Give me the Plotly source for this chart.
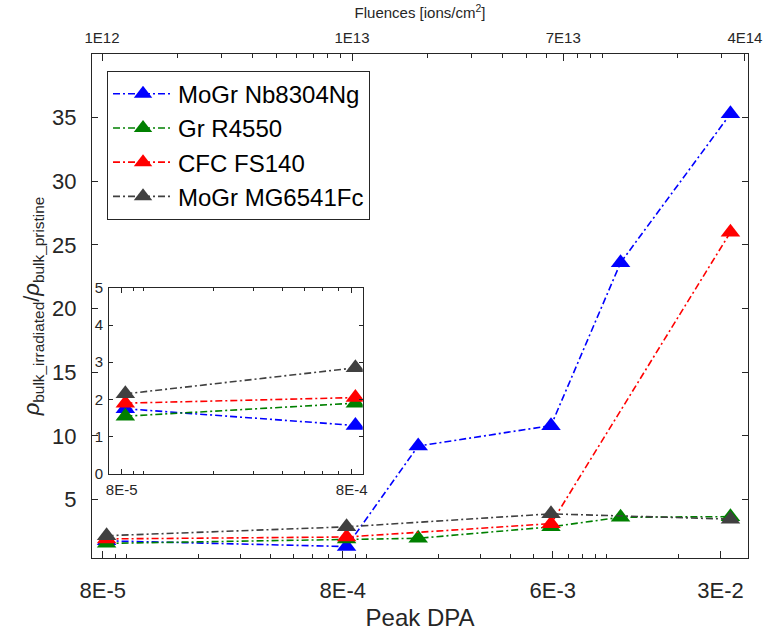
import plotly.graph_objects as go

# ---------------- data ----------------
dpa_all = [8.3e-5, 8.3e-4, 1.65e-3, 5.9e-3, 1.15e-2, 3.3e-2]
dpa_four = [8.3e-5, 8.3e-4, 5.9e-3, 3.3e-2]

blue_vals = [1.75, 1.3, 9.2, 10.8, 23.6, 35.3]
green_vals = [1.55, 1.9, 1.95, 2.85, 3.6, 3.65]
red_vals = [1.9, 2.05, 3.1, 26.0]
gray_vals = [2.15, 2.85, 3.87, 3.45]

names = ["MoGr Nb8304Ng", "Gr R4550", "CFC FS140", "MoGr MG6541Fc"]
colors = ["#0000FF", "#008000", "#FF0000", "#404040"]

dpa_ticks = [8e-5, 8e-4, 6e-3, 3e-2]
dpa_ticktext = ["8E-5", "8E-4", "6E-3", "3E-2"]
flu_ticks = [1e12, 1e13, 7e13, 3.73e14]
flu_ticktext = ["1E12", "1E13", "7E13", "4E14"]
inset_xticks = [8e-5, 8e-4]
inset_xticktext = ["8E-5", "8E-4"]
inset_yticks = [0, 1, 2, 3, 4, 5]
main_yticks = [5, 10, 15, 20, 25, 30, 35]

series = [
    (names[0], dpa_all, blue_vals, colors[0]),
    (names[1], dpa_all, green_vals, colors[1]),
    (names[2], dpa_four, red_vals, colors[2]),
    (names[3], dpa_four, gray_vals, colors[3]),
]

FONT = "Liberation Sans, Arial, Helvetica, sans-serif"
TXT = "#262626"
AX = "#262626"
DASH = "7px,3px,2px,3px"


def log_minor(lo, hi, exclude):
    vals = []
    for n in range(lo, hi + 1):
        for k in range(1, 10):
            v = k * 10.0 ** n
            if all(abs(v - e) / e > 1e-6 for e in exclude):
                vals.append(v)
    return vals


fig = go.Figure()

# main traces
for name, xs, ys, col in series:
    fig.add_trace(go.Scatter(
        x=xs, y=ys, name=name, mode="lines+markers",
        line=dict(color=col, width=1.6, dash=DASH),
        marker=dict(symbol="triangle-up", size=17, color=col),
        xaxis="x", yaxis="y"))

# inset traces (first two points)
for name, xs, ys, col in series:
    fig.add_trace(go.Scatter(
        x=xs[:2], y=ys[:2], name=name, mode="lines+markers", showlegend=False,
        line=dict(color=col, width=1.6, dash=DASH),
        marker=dict(symbol="triangle-up", size=17, color=col),
        xaxis="x2", yaxis="y2"))

# empty trace so the top fluence axis is drawn
fig.add_trace(go.Scatter(x=[None], y=[None], xaxis="x3", yaxis="y",
                         mode="markers", showlegend=False, hoverinfo="skip"))

fig.update_layout(
    width=778, height=638,
    margin=dict(l=92, r=30, t=50, b=73),
    paper_bgcolor="white", plot_bgcolor="white",
    font=dict(family=FONT, color=TXT),
    showlegend=True,
    legend=dict(
        x=0.0229, y=0.967, xanchor="left", yanchor="top",
        bgcolor="white", bordercolor=AX, borderwidth=1,
        font=dict(size=24, family=FONT, color="#000000"),
        itemwidth=60, tracegroupgap=0,
    ),
    xaxis=dict(
        type="log", range=[-4.1417, -1.4083], domain=[0, 1], anchor="y",
        tickmode="array", tickvals=dpa_ticks, ticktext=dpa_ticktext,
        ticks="inside", ticklen=7, tickwidth=1, tickcolor=AX,
        showline=True, linecolor=AX, linewidth=1, mirror=False,
        showgrid=False, zeroline=False,
        tickfont=dict(size=22, family=FONT, color=TXT),
        ticklabelstandoff=13,
        minor=dict(tickmode="array", tickvals=log_minor(-5, -2, dpa_ticks),
                   ticks="inside", ticklen=4, tickcolor=AX, showgrid=False),
        title=dict(text="Peak DPA", font=dict(size=24, family=FONT, color=TXT),
                   standoff=6),
    ),
    yaxis=dict(
        range=[0.4, 40], domain=[0, 1], anchor="x",
        tickmode="array", tickvals=main_yticks,
        ticks="inside", ticklen=6, tickwidth=1, tickcolor=AX,
        showline=True, linecolor=AX, linewidth=1, mirror="ticks",
        showgrid=False, zeroline=False,
        tickfont=dict(size=22, family=FONT, color=TXT),
        ticklabelstandoff=10,
        title=dict(text="<i>ρ</i><sub>bulk_irradiated</sub>/<i>ρ</i><sub>bulk_pristine</sub>",
                   font=dict(size=22, family=FONT, color=TXT), standoff=6),
    ),
    xaxis3=dict(
        type="log", range=[11.96, 14.584], overlaying="x", side="top", anchor="y",
        tickmode="array", tickvals=flu_ticks, ticktext=flu_ticktext,
        ticks="inside", ticklen=7, tickwidth=1, tickcolor=AX,
        showline=True, linecolor=AX, linewidth=1,
        showgrid=False, zeroline=False,
        tickfont=dict(size=15, family=FONT, color=TXT),
        ticklabelstandoff=4,
        minor=dict(tickmode="array", tickvals=log_minor(12, 14, flu_ticks),
                   ticks="inside", ticklen=4, tickcolor=AX, showgrid=False),
        title=dict(text="Fluences [ions/cm<sup>2</sup>]",
                   font=dict(size=15, family=FONT, color=TXT), standoff=6),
    ),
    xaxis2=dict(
        type="log", range=[-4.152, -3.049], domain=[0.0259, 0.4127], anchor="y2",
        tickmode="array", tickvals=inset_xticks, ticktext=inset_xticktext,
        ticks="inside", ticklen=5, tickwidth=1, tickcolor=AX,
        showline=True, linecolor=AX, linewidth=1, mirror="ticks",
        showgrid=False, zeroline=False,
        tickfont=dict(size=15, family=FONT, color=TXT),
        ticklabelstandoff=2,
        minor=dict(tickmode="array", tickvals=log_minor(-5, -3, inset_xticks),
                   ticks="inside", ticklen=3, tickcolor=AX, showgrid=False),
    ),
    yaxis2=dict(
        range=[0, 5], domain=[0.167, 0.536], anchor="x2",
        tickmode="array", tickvals=inset_yticks,
        ticks="inside", ticklen=4, tickwidth=1, tickcolor=AX,
        showline=True, linecolor=AX, linewidth=1, mirror="ticks",
        showgrid=False, zeroline=False,
        tickfont=dict(size=15, family=FONT, color=TXT),
        ticklabelstandoff=2,
    ),
)

fig.write_html("out.html")
